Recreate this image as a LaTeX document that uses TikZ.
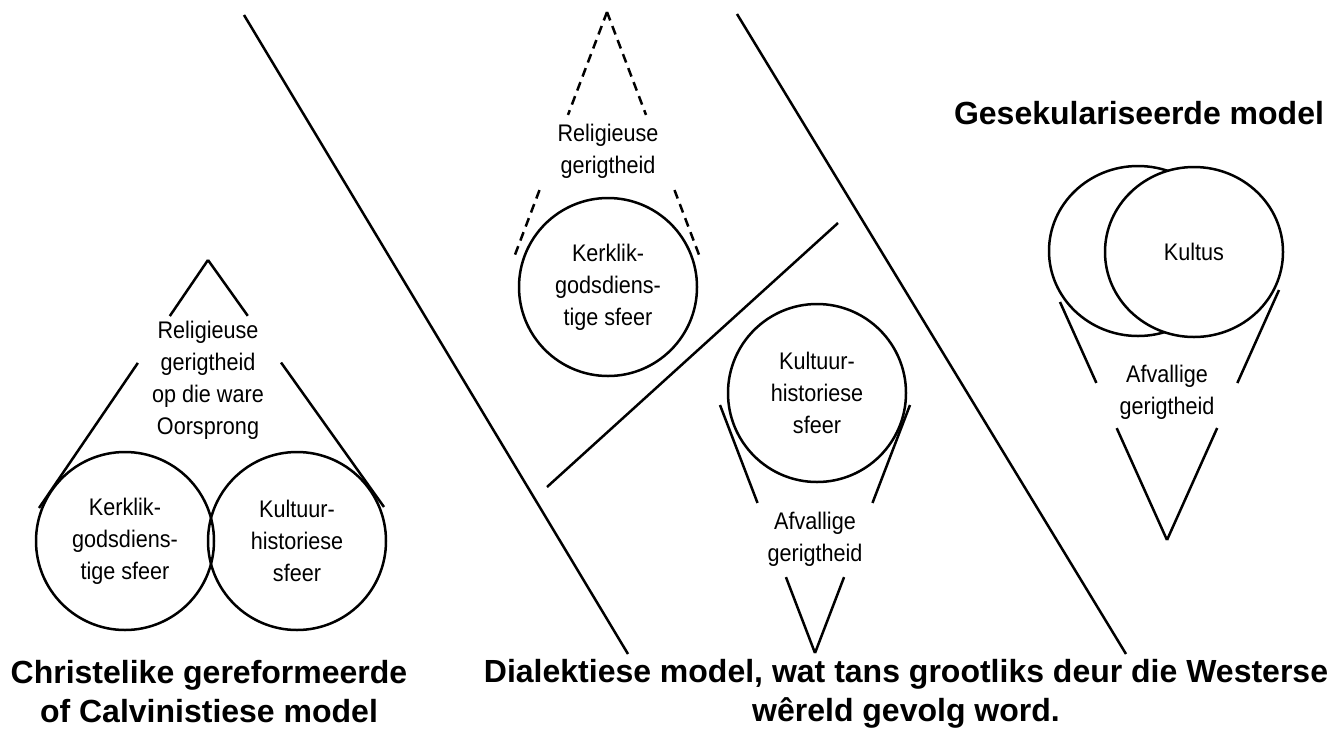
\documentclass[tikz,border=0pt]{standalone}
\usepackage{fontspec}
\setmainfont{Liberation Sans}
\newfontfamily\smal[FakeStretch=0.9]{Liberation Sans}
\usetikzlibrary{calc,positioning,shapes.geometric}

\tikzset{
  lyn/.style={line width=2.5pt},
  stippel/.style={line width=2.5pt,dash pattern=on 9pt off 6pt},
  label/.style={align=center,inner sep=0pt,font=\smal\fontsize{24}{32}\selectfont},
  titel/.style={align=center,inner sep=0pt,font=\bfseries\fontsize{32}{39}\selectfont},
  sfeer/.style={circle,draw,line width=2.5pt,minimum size=178pt,inner sep=0pt,
    align=center,font=\smal\fontsize{24}{32}\selectfont},
  kultus/.style={ellipse,draw,line width=2.5pt,minimum width=178pt,minimum height=170pt,
    inner sep=0pt,align=center,font=\smal\fontsize{24}{32}\selectfont},
}

\begin{document}
\begin{tikzpicture}[x=1pt,y=-1pt]
 \useasboundingbox (0,0) rectangle (1344,729);
 %
 \coordinate (t1) at (208,260);
 \coordinate (l1) at (39,508);
 \coordinate (r1) at (384,507);
 \coordinate (l1a) at ($(t1)!0.226!(l1)$);
 \coordinate (l1b) at ($(t1)!0.415!(l1)$);
 \coordinate (r1a) at ($(t1)!0.226!(r1)$);
 \coordinate (r1b) at ($(t1)!0.415!(r1)$);
 \node[label] (rel1) at (208,380) {Religieuse\\gerigtheid\\op die ware\\Oorsprong};
 \node[sfeer] (k1) at (125,541) {Kerklik-\\godsdiens-\\tige sfeer};
 \node[sfeer] (c1) at (297,541) {Kultuur-\\historiese\\sfeer};
 \node[titel] (m1) at (209,692) {Christelike gereformeerde\\of Calvinistiese model};
 \draw[lyn] (t1) -- (l1a) (l1b) -- (l1);
 \draw[lyn] (t1) -- (r1a) (r1b) -- (r1);
 %
 \coordinate (d1a) at (244,15);
 \coordinate (d1b) at (628,654);
 \coordinate (d2a) at (737,14);
 \coordinate (d2b) at (1126,654);
 \coordinate (d3a) at (838,223);
 \coordinate (d3b) at (547,487);
 \draw[lyn] (d1a) -- (d1b);
 \draw[lyn] (d2a) -- (d2b);
 \draw[lyn] (d3a) -- (d3b);
 %
 \coordinate (t2) at (607,12);
 \coordinate (l2) at (513,260);
 \coordinate (r2) at (701,260);
 \coordinate (l2a) at ($(t2)!0.415!(l2)$);
 \coordinate (l2b) at ($(t2)!0.718!(l2)$);
 \coordinate (r2a) at ($(t2)!0.415!(r2)$);
 \coordinate (r2b) at ($(t2)!0.718!(r2)$);
 \node[label] (rel2) at (608,151) {Religieuse\\gerigtheid};
 \node[sfeer] (k2) at (608,287) {Kerklik-\\godsdiens-\\tige sfeer};
 \draw[stippel] (t2) -- (l2a) (l2b) -- (l2);
 \draw[stippel] (t2) -- (r2a) (r2b) -- (r2);
 %
 \coordinate (b2) at (815,653);
 \coordinate (l3) at (720,405);
 \coordinate (r3) at (910,405);
 \coordinate (l3a) at ($(b2)!0.306!(l3)$);
 \coordinate (l3b) at ($(b2)!0.605!(l3)$);
 \coordinate (r3a) at ($(b2)!0.306!(r3)$);
 \coordinate (r3b) at ($(b2)!0.605!(r3)$);
 \node[sfeer] (c2) at (817,393) {Kultuur-\\historiese\\sfeer};
 \node[label] (afv2) at (815,539) {Afvallige\\gerigtheid};
 \draw[lyn] (b2) -- (l3a) (l3b) -- (l3);
 \draw[lyn] (b2) -- (r3a) (r3b) -- (r3);
 \node[titel] (m2) at (906,694) {Dialektiese model, wat tans grootliks deur die Westerse\\w\^ereld gevolg word.};
 %
 \node[titel] (m3) at (1139,113) {Gesekulariseerde model};
 \node[kultus] (e3) at (1138,251) {};
 \node[kultus,fill=white] (k3) at (1194,252) {Kultus};
 \coordinate (b3) at (1167,540);
 \coordinate (l4) at (1060,302);
 \coordinate (r4) at (1279,290);
 \coordinate (l4a) at ($(b3)!0.47!(l4)$);
 \coordinate (l4b) at ($(b3)!0.66!(l4)$);
 \coordinate (r4a) at ($(b3)!0.448!(r4)$);
 \coordinate (r4b) at ($(b3)!0.628!(r4)$);
 \node[label] (afv3) at (1167,392) {Afvallige\\gerigtheid};
 \draw[lyn] (b3) -- (l4a) (l4b) -- (l4);
 \draw[lyn] (b3) -- (r4a) (r4b) -- (r4);
\end{tikzpicture}
\end{document}
